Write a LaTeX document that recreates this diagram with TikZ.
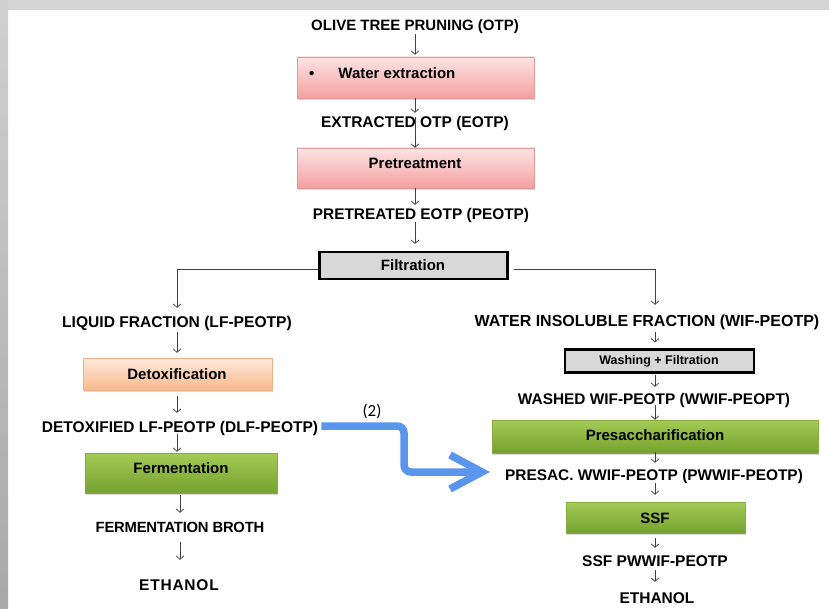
\documentclass[tikz,border=0pt]{standalone}
\usepackage{fontspec}
\setmainfont{Liberation Sans}
\newfontfamily\calib{Carlito}
\usetikzlibrary{arrows.meta,shadows,calc}
\definecolor{pinkT}{HTML}{FDE4E4}
\definecolor{pinkB}{HTML}{F4A0A0}
\definecolor{pinkD}{HTML}{E39A9A}
\definecolor{orT}{HTML}{FDEBDD}
\definecolor{orB}{HTML}{F9B88C}
\definecolor{orD}{HTML}{EDB28A}
\definecolor{grT}{HTML}{A3CB55}
\definecolor{grB}{HTML}{76A22F}
\definecolor{grD}{HTML}{86AE3E}
\definecolor{boxgray}{HTML}{D8D8D8}
\definecolor{arrgray}{HTML}{404040}
\definecolor{flowblue}{HTML}{5A96EE}
\definecolor{bandgray}{HTML}{D4D4D4}
\definecolor{stripT}{HTML}{D0D0D0}
\definecolor{stripB}{HTML}{A8A8A8}
\begin{document}
\begin{tikzpicture}[x=1pt,y=-1pt,
  lbl/.style={font=\fontsize{#1}{18}\selectfont\bfseries, inner sep=1pt, text height=13.5pt, text depth=0.5pt},
  lbl/.default=15,
  smalllbl/.style={font=\fontsize{12.5}{15}\selectfont\bfseries, inner sep=1pt},
  arr/.style={draw=arrgray, line width=0.7pt, -{Straight Barb[length=3.5pt,width=8pt]}},
  boxbase/.style={rectangle, inner sep=0pt, drop shadow={shadow xshift=1.2pt, shadow yshift=-1.8pt, opacity=0.3}},
  pinkbox/.style={boxbase, top color=pinkT, bottom color=pinkB, draw=pinkD, line width=0.5pt},
  orbox/.style={boxbase, top color=orT, bottom color=orB, draw=orD, line width=0.5pt},
  grbox/.style={boxbase, top color=grT, bottom color=grB, draw=grD, line width=0.5pt},
  graybox/.style={rectangle, inner sep=0pt, fill=boxgray, draw=black, line width=2.2pt},
  bluearr/.style={draw=flowblue, line width=7.5pt, rounded corners=7pt, -{Straight Barb[length=32pt,width=34pt]}}
]
\useasboundingbox (0,0) rectangle (829,609);
% background frame
\fill[white] (0,0) rectangle (829,609);
\fill[bandgray] (0,0) rectangle (829,10);
\shade[top color=stripT, bottom color=stripB] (0,0) rectangle (8,609);

% boxes
\node[pinkbox, minimum width=237pt, minimum height=41pt] (we) at (415.5,77.5) {};
\node[pinkbox, minimum width=237pt, minimum height=40pt] (pre) at (415.5,168) {};
\node[graybox, minimum width=188pt, minimum height=27pt] (filt) at (413.5,265.5) {};
\node[orbox, minimum width=189pt, minimum height=32pt] (detox) at (177.5,374) {};
\node[grbox, minimum width=192pt, minimum height=40pt] (ferm) at (181,473) {};
\node[graybox, minimum width=189pt, minimum height=23pt] (wash) at (659.5,361) {};
\node[grbox, minimum width=326pt, minimum height=33pt] (presac) at (655,436.5) {};
\node[grbox, minimum width=179pt, minimum height=31pt] (ssf) at (655.5,517.5) {};

% box texts
\node[lbl, anchor=west] (wet) at (308,72) {\textbullet\hspace{24pt}Water extraction};
\node[lbl] (pret) at (415,162) {Pretreatment};
\node[lbl] (filtt) at (413,264) {Filtration};
\node[lbl] (detoxt) at (177,373) {Detoxification};
\node[lbl] (fermt) at (181,467) {Fermentation};
\node[smalllbl] (washt) at (659,361) {Washing + Filtration};
\node[lbl] (presact) at (655,434) {Presaccharification};
\node[lbl] (ssft) at (655,517) {SSF};

% stream labels
\node[lbl] (otp) at (415,24) {OLIVE TREE PRUNING (OTP)};
\node[lbl=15.5] (eotp) at (415,121) {EXTRACTED OTP (EOTP)};
\node[lbl=15.4] (peotp) at (421,213) {PRETREATED EOTP (PEOTP)};
\node[lbl=15.6] (lf) at (177,321) {LIQUID FRACTION (LF-PEOTP)};
\node[lbl=15.5] (dlf) at (180,426) {DETOXIFIED LF-PEOTP (DLF-PEOTP)};
\node[lbl=14.8] (broth) at (180,526) {\addfontfeature{LetterSpace=-1.5}FERMENTATION BROTH};
\node[lbl=15.5] (eth1) at (179,584) {\addfontfeature{LetterSpace=5}ETHANOL};
\node[lbl=16] (wif) at (647,320) {WATER INSOLUBLE FRACTION (WIF-PEOTP)};
\node[lbl=15.4] (wwif) at (654,398) {WASHED WIF-PEOTP (WWIF-PEOPT)};
\node[lbl=15.4] (pwwif) at (654,474) {PRESAC. WWIF-PEOTP (PWWIF-PEOTP)};
\node[lbl=15.5] (ssfp) at (655,560) {SSF PWWIF-PEOTP};
\node[lbl=15.5] (eth2) at (657,597) {ETHANOL};

\coordinate (cx) at (415,0);
\coordinate (lx) at (177,0);
\coordinate (lx2) at (180,0);
\coordinate (rx) at (655,0);

% main column
\draw[arr, shorten <=2pt, shorten >=2pt] (cx |- otp.south) -- (cx |- we.north);
\draw[arr] (cx |- we.south) -- (cx |- eotp.north);
\draw[arr, shorten <=-12pt] (cx |- eotp.south) -- (cx |- pre.north);
\draw[arr] (cx |- pre.south) -- (cx |- peotp.north);
\draw[arr, shorten <=1pt, shorten >=7pt] (cx |- peotp.south) -- (cx |- filt.north);
\draw[arr, shorten >=5pt] ([yshift=-4pt]filt.west) -| (lx |- lf.north);
\draw[arr, shorten <=5pt, shorten >=7pt] ([yshift=-4pt]filt.east) -| (rx |- wif.north);

% left column
\draw[arr, shorten <=3pt, shorten >=5pt] (lx |- lf.south) -- (lx |- detox.north);
\draw[arr, shorten <=6pt, shorten >=5pt] (lx |- detox.south) -- (lx |- dlf.north);
\draw[arr, shorten >=1pt] (lx |- dlf.south) -- (lx |- ferm.north);
\draw[arr, shorten <=2pt, shorten >=5pt] (lx2 |- ferm.south) -- (lx2 |- broth.north);
\draw[arr, shorten <=8pt, shorten >=16pt] (lx2 |- broth.south) -- (lx2 |- eth1.north);

% right column
\draw[arr, shorten <=4pt, shorten >=6pt] (rx |- wif.south) -- (rx |- wash.north);
\draw[arr, shorten <=1pt, shorten >=3pt] (rx |- wash.south) -- (rx |- wwif.north);
\draw[arr, shorten <=-1pt] (rx |- wwif.south) -- (rx |- presac.north);
\draw[arr, shorten <=-1pt, shorten >=3pt] (rx |- presac.south) -- (rx |- pwwif.north);
\draw[arr, shorten <=1pt, shorten >=7pt] (rx |- pwwif.south) -- (rx |- ssf.north);
\draw[arr, shorten <=5pt, shorten >=4pt] (rx |- ssf.south) -- (rx |- ssfp.north);
\draw[arr, shorten <=2pt, shorten >=7pt] (rx |- ssfp.south) -- (rx |- eth2.north);

% blue cross-link
\coordinate (bend) at (404,450);
\coordinate (tgt) at (490,472);
\draw[bluearr] ([xshift=2pt]dlf.east) -- (dlf.east -| bend) -- (bend |- tgt) -- (tgt);
\node[font=\calib\fontsize{17}{20}\selectfont, inner sep=0pt] (two) at (372,411) {(2)};
\end{tikzpicture}
\end{document}
